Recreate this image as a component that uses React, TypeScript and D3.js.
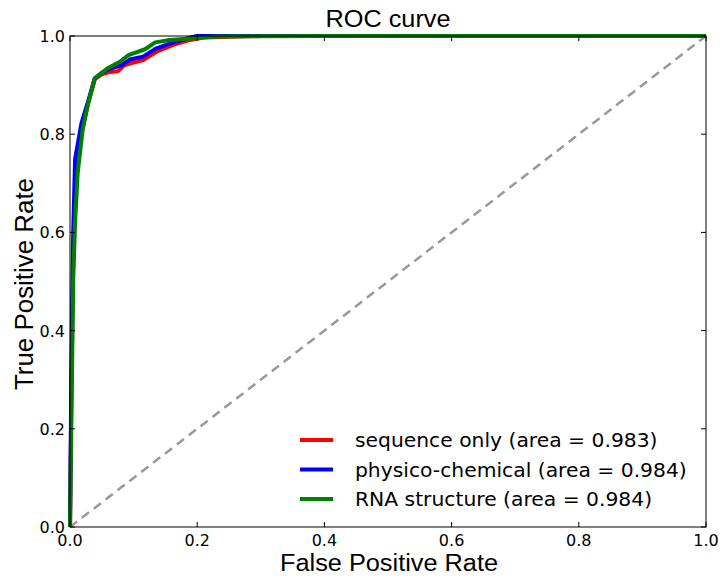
import React, { useEffect, useRef } from 'react';
import * as d3 from 'd3';

const tickValues = [0, 0.2, 0.4, 0.6, 0.8, 1.0];

const seriesNames = [
  'sequence only (area = 0.983)',
  'physico-chemical (area = 0.984)',
  'RNA structure (area = 0.984)',
];
const seriesColors = ['#ff0000', '#0000ff', '#008000'];

const fprSequence = [0, 0.002, 0.005, 0.008, 0.012, 0.02, 0.028, 0.039, 0.05, 0.06, 0.075, 0.085, 0.094, 0.115, 0.136, 0.162, 0.189, 0.21, 0.3, 1];
const tprSequence = [0, 0.25, 0.55, 0.68, 0.76, 0.815, 0.86, 0.912, 0.922, 0.926, 0.928, 0.94, 0.944, 0.951, 0.968, 0.982, 0.992, 0.997, 1, 1];

const fprPhysico = [0, 0.002, 0.005, 0.008, 0.018, 0.028, 0.039, 0.05, 0.06, 0.08, 0.094, 0.115, 0.136, 0.16, 0.19, 0.2, 1];
const tprPhysico = [0, 0.3, 0.6, 0.75, 0.822, 0.865, 0.914, 0.925, 0.932, 0.94, 0.952, 0.958, 0.975, 0.986, 0.997, 1, 1];

const fprStructure = [0, 0.002, 0.005, 0.008, 0.012, 0.02, 0.028, 0.039, 0.05, 0.06, 0.079, 0.092, 0.118, 0.134, 0.157, 0.2, 0.23, 0.4, 1];
const tprStructure = [0, 0.2, 0.5, 0.62, 0.72, 0.81, 0.86, 0.914, 0.925, 0.935, 0.948, 0.961, 0.973, 0.987, 0.992, 0.996, 0.999, 1, 1];

const App = () => {
  const svgRef = useRef<SVGSVGElement>(null);

  useEffect(() => {
    const svg = d3.select(svgRef.current);
    svg.selectAll('*').remove();
    const font = 'DejaVu Sans, sans-serif';
    const labelFont = 'Liberation Sans, Arial, sans-serif';

    // plot area in page pixels
    const left = 70, right = 706, top = 36, bottom = 527;
    const x = d3.scaleLinear().domain([0, 1]).range([left, right]);
    const y = d3.scaleLinear().domain([0, 1]).range([bottom, top]);

    svg.append('rect').attr('width', 723).attr('height', 578).attr('fill', 'white');

    // diagonal
    svg.append('line')
      .attr('x1', x(0)).attr('y1', y(0)).attr('x2', x(1)).attr('y2', y(1))
      .attr('stroke', '#999').attr('stroke-width', 2.5).attr('stroke-dasharray', '9,6');

    const curves = [
      fprSequence.map((f, i) => [f, tprSequence[i]]),
      fprPhysico.map((f, i) => [f, tprPhysico[i]]),
      fprStructure.map((f, i) => [f, tprStructure[i]]),
    ];
    const line = d3.line<number[]>().x(d => x(d[0])).y(d => y(d[1]));
    curves.forEach((pts, i) => {
      svg.append('path')
        .attr('d', line(pts))
        .attr('fill', 'none')
        .attr('stroke', seriesColors[i])
        .attr('stroke-width', 4)
        .attr('stroke-linejoin', 'round');
    });

    // frame
    svg.append('rect')
      .attr('x', left).attr('y', top).attr('width', right - left).attr('height', bottom - top)
      .attr('fill', 'none').attr('stroke', 'black').attr('stroke-width', 1);

    // ticks inside on all sides
    const tl = 5;
    tickValues.forEach(v => {
      svg.append('line').attr('x1', x(v)).attr('x2', x(v)).attr('y1', bottom).attr('y2', bottom - tl).attr('stroke', 'black');
      svg.append('line').attr('x1', x(v)).attr('x2', x(v)).attr('y1', top).attr('y2', top + tl).attr('stroke', 'black');
      svg.append('line').attr('y1', y(v)).attr('y2', y(v)).attr('x1', left).attr('x2', left + tl).attr('stroke', 'black');
      svg.append('line').attr('y1', y(v)).attr('y2', y(v)).attr('x1', right).attr('x2', right - tl).attr('stroke', 'black');

      svg.append('text')
        .attr('x', x(v)).attr('y', 546)
        .attr('text-anchor', 'middle')
        .style('font-family', font).style('font-size', '16px')
        .text(v.toFixed(1));
      svg.append('text')
        .attr('x', left - 5).attr('y', y(v) + 6)
        .attr('text-anchor', 'end')
        .style('font-family', font).style('font-size', '16px')
        .text(v.toFixed(1));
    });

    svg.append('text')
      .attr('x', 388).attr('y', 27)
      .attr('text-anchor', 'middle')
      .attr('textLength', 125).attr('lengthAdjust', 'spacingAndGlyphs')
      .style('font-family', labelFont).style('font-size', '23px')
      .text('ROC curve');

    svg.append('text')
      .attr('x', 389).attr('y', 571)
      .attr('text-anchor', 'middle')
      .attr('textLength', 218).attr('lengthAdjust', 'spacingAndGlyphs')
      .style('font-family', labelFont).style('font-size', '23.5px')
      .text('False Positive Rate');

    svg.append('text')
      .attr('transform', `translate(33, 284) rotate(-90)`)
      .attr('text-anchor', 'middle')
      .attr('textLength', 212).attr('lengthAdjust', 'spacingAndGlyphs')
      .style('font-family', labelFont).style('font-size', '25.5px')
      .text('True Positive Rate');

    // legend (no frame)
    seriesNames.forEach((name, i) => {
      const ly = 440 + i * 29.5;
      svg.append('line')
        .attr('x1', 300).attr('x2', 333).attr('y1', ly).attr('y2', ly)
        .attr('stroke', seriesColors[i]).attr('stroke-width', 4);
      svg.append('text')
        .attr('x', 355).attr('y', ly + 7)
        .style('font-family', font).style('font-size', '20.3px')
        .text(name);
    });
  }, []);

  return <svg ref={svgRef} width={723} height={578} style={{ position: 'absolute', left: 0, top: 0 }}></svg>;
};

export default App;
